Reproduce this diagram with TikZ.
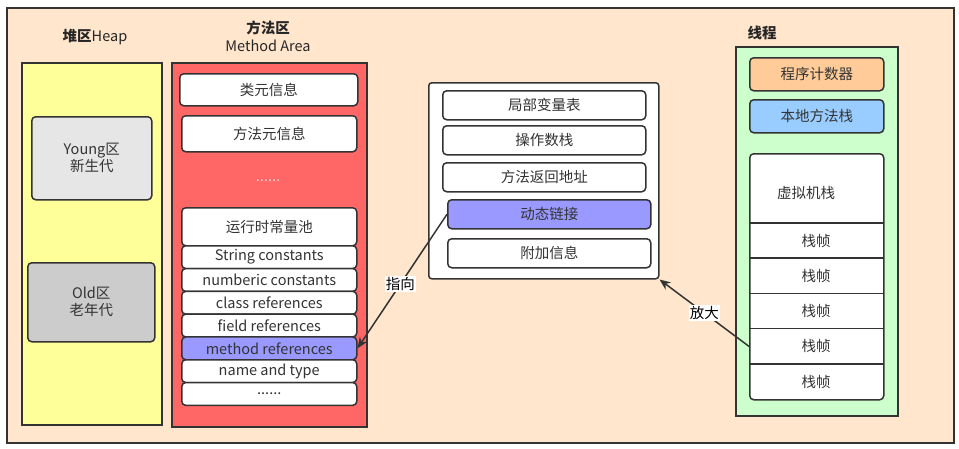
\documentclass[tikz,border=0pt]{standalone}
\usepackage{fontspec}
\setmainfont{Noto Sans CJK SC}
\usetikzlibrary{arrows.meta,positioning}
\definecolor{bgcol}{HTML}{FFE6CC}
\definecolor{heapcol}{HTML}{FFFF99}
\definecolor{areacol}{HTML}{FF6666}
\definecolor{youngcol}{HTML}{E6E6E6}
\definecolor{oldcol}{HTML}{CCCCCC}
\definecolor{linkcol}{HTML}{9999FF}
\definecolor{threadcol}{HTML}{CCFFCC}
\definecolor{pccol}{HTML}{FFCC99}
\definecolor{nativecol}{HTML}{99CCFF}
\definecolor{linecol}{HTML}{333333}

\begin{document}
\begin{tikzpicture}[x=1pt, y=-1pt,
  font=\fontsize{14.5}{17}\selectfont,
  region/.style = {draw=linecol, line width=1.5pt, inner sep=0pt, anchor=north west},
  slot/.style   = {region, rounded corners=4pt, fill=white, text=linecol},
  row/.style    = {slot, minimum width=175pt, minimum height=22.8pt},
  frame/.style  = {slot, minimum width=203pt, minimum height=29pt},
  stk/.style    = {inner sep=0pt, anchor=north west, minimum width=134pt,
                   minimum height=35.2pt, text=linecol},
  ttl/.style    = {font=\fontsize{14.5}{18}\selectfont, align=center, text=black!85},
  arr/.style    = {-{Stealth[length=11pt,width=9pt]}, line width=1.5pt, linecol},
  tag/.style    = {fill=white, inner sep=1pt, text=black}]
\useasboundingbox (0,0) rectangle (959,448);

\node[region, fill=bgcol, minimum width=947pt, minimum height=435pt] (bg) at (6,7) {};

% heap
\node[ttl] (heapt) at (95,37) {\textbf{堆区}Heap};
\node[region, fill=heapcol, minimum width=140pt, minimum height=362pt] (heap) at (21,62) {};
\node[slot, fill=youngcol, align=center, minimum width=120pt, minimum height=83pt] (young) at (31,116) {Young区\\新生代};
\node[slot, fill=oldcol, align=center, minimum width=127pt, minimum height=79pt] (old) at (27,262) {Old区\\老年代};

% method area
\node[ttl] (areat) at (268,36) {\textbf{方法区}\\Method Area};
\node[region, fill=areacol, minimum width=195pt, minimum height=364pt] (area) at (171,62) {};
\node[slot, minimum width=178pt, minimum height=32pt] (cls) at (179,73) {类元信息};
\node[slot, minimum width=175pt, minimum height=36pt] (mth) at (181,115) {方法元信息};
\node[text=white!85!black] (dots1) at (268,181) {......};
\node[slot, minimum width=175pt, minimum height=38pt] (pool) at (181,207) {运行时常量池};
\node[row] (str)   at (181,245)   {String constants};
\node[row] (num)   at (181,267.8) {numberic constants};
\node[row] (cref)  at (181,290.6) {class references};
\node[row] (fref)  at (181,313.4) {field references};
\node[row, fill=linkcol] (mref) at (181,336.2) {method references};
\node[row] (nat)   at (181,359)   {name and type};
\node[row] (dots2) at (181,381.8) {......};

% stack frame
\node[region, fill=white, rounded corners=3pt, minimum width=230pt, minimum height=196pt] (mid) at (428,82) {};
\node[frame] (locals) at (442,90)  {局部变量表};
\node[frame] (ops)    at (442,125) {操作数栈};
\node[frame] (ret)    at (442,162) {方法返回地址};
\node[frame, fill=linkcol] (dyn) at (447,199) {动态链接};
\node[frame] (extra)  at (447,238) {附加信息};

% thread
\node[ttl] (threadt) at (762,33) {\textbf{线程}};
\node[region, fill=threadcol, minimum width=162pt, minimum height=369pt] (thread) at (735,46) {};
\node[slot, fill=pccol, minimum width=134pt, minimum height=33pt] (pc) at (749,57) {程序计数器};
\node[slot, fill=nativecol, minimum width=134pt, minimum height=33pt] (native) at (749,99) {本地方法栈};
\node[slot, minimum width=134pt, minimum height=246pt] (vm) at (749,153) {};
\node[text=linecol] (vmt) at (806,193) {虚拟机栈};
\node[stk] (f1) at (749,223)   {栈帧};
\node[stk] (f2) at (749,258.2) {栈帧};
\node[stk] (f3) at (749,293.4) {栈帧};
\node[stk] (f4) at (749,328.6) {栈帧};
\node[stk] (f5) at (749,363.8) {栈帧};
\foreach \f in {f1,f2,f3,f4,f5}
  \draw[linecol, line width=1.5pt] (\f.north west) -- (\f.north east);

\draw[arr] (dyn.west) -- node[tag, pos=0.52] {指向} (mref.east);
\draw[arr] (f4.west) -- node[tag, pos=0.5] {放大} (mid.south east);
\end{tikzpicture}
\end{document}
